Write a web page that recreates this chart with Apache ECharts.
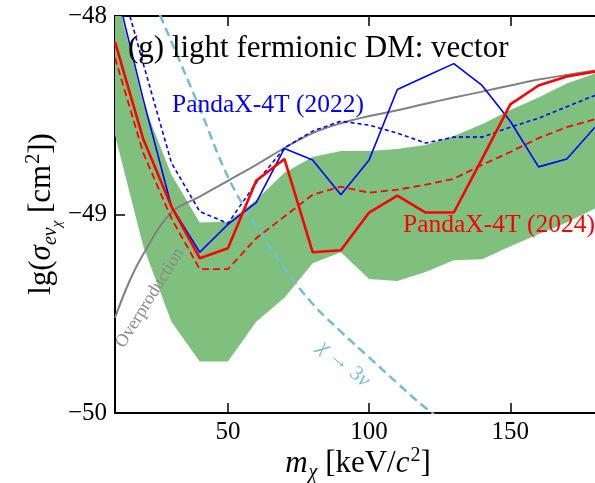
<!DOCTYPE html>
<html>
<head>
<meta charset="utf-8">
<script src="https://cdn.jsdelivr.net/npm/echarts@6/dist/echarts.min.js"></script>
<style>
  html, body { margin: 0; padding: 0; background: #fff; }
  #chart { width: 595px; height: 483px; }
</style>
</head>
<body>
<div id="chart"></div>
<script>
// DM mass grid (keV/c^2) for the PandaX-4T limits
const mass = [10, 20, 30, 40, 50, 60, 70, 80, 90, 100, 110, 120, 130, 140, 150, 160, 170, 180];
// PandaX-4T (2024) observed and expected limits, lg(sigma / cm^2)
const limit2024 = [-48.13, -48.62, -48.96, -49.22, -49.17, -48.83, -48.72, -49.19, -49.18, -48.99, -48.905, -48.99, -48.99, -48.72, -48.445, -48.35, -48.305, -48.28];
const expected2024 = [-48.21, -48.69, -49.02, -49.275, -49.275, -49.12, -49.01, -48.90, -48.86, -48.89, -48.875, -48.85, -48.82, -48.75, -48.685, -48.615, -48.56, -48.52];
// PandaX-4T (2022) observed and expected limits
const limit2022 = [-47.84, -48.42, -48.96, -49.19, -49.05, -48.94, -48.667, -48.725, -48.90, -48.725, -48.37, -48.305, -48.24, -48.35, -48.53, -48.76, -48.72, -48.56];
const expected2022 = [-47.73, -48.24, -48.74, -48.985, -49.045, -48.84, -48.665, -48.58, -48.53, -48.55, -48.59, -48.64, -48.61, -48.61, -48.56, -48.515, -48.457, -48.40];
// 1-sigma sensitivity band of the 2024 result
const bandMass = [10, 15, 20, 30, 40, 50, 60, 70, 80, 90, 100, 110, 120, 130, 140, 150, 160, 170, 180];
const bandLow = [-48.60, -48.88, -49.16, -49.54, -49.74, -49.74, -49.54, -49.42, -49.245, -49.19, -49.325, -49.335, -49.29, -49.23, -49.225, -49.16, -49.10, -49.04, -48.97];
const bandHigh = [-47.87, -48.15, -48.44, -48.80, -49.04, -49.036, -48.927, -48.79, -48.71, -48.68, -48.68, -48.67, -48.65, -48.605, -48.545, -48.474, -48.41, -48.34, -48.29];
// Relic overproduction boundary
const overMass = [10, 15, 20, 30, 40, 50, 60, 70, 80, 90, 100, 110, 120, 130, 140, 150, 160, 170, 180];
const overVal = [-49.52, -49.34, -49.20, -48.99, -48.91, -48.83, -48.75, -48.665, -48.59, -48.54, -48.504, -48.475, -48.442, -48.411, -48.381, -48.35, -48.32, -48.297, -48.275];
// Lifetime bound from chi -> 3 nu decay
const nuMass = [20, 30, 40, 50, 60, 70, 80, 90, 100, 110, 120, 130];
const nuVal = [-47.80, -48.13, -48.465, -48.81, -49.06, -49.27, -49.45, -49.59, -49.72, -49.85, -49.975, -50.08];
// Axis ticks
const xTicks = [50, 100, 150];

const SERIF = '"Liberation Serif", "DejaVu Serif", serif';
const zip = (xs, ys) => xs.map((x, i) => [x, ys[i]]);
const minus = v => (v < 0 ? '\u2212' + Math.abs(v) : String(v));

const chart = echarts.init(document.getElementById('chart'), null, { renderer: 'canvas' });

const bandData = bandMass.map((x, i) => [x, bandLow[i], bandHigh[i]]);

const option = {
  animation: false,
  backgroundColor: '#ffffff',
  grid: { left: 115, right: -8, top: 16, bottom: 70, containLabel: false },
  xAxis: [
    {
      type: 'value', min: 10, max: 180, position: 'bottom',
      axisLine: { show: true, onZero: false, lineStyle: { color: '#000', width: 2 } },
      axisTick: { show: true, inside: true, length: 10, customValues: xTicks, lineStyle: { color: '#000', width: 1.5 } },
      axisLabel: { show: true, customValues: xTicks, margin: 7, fontFamily: SERIF, fontSize: 25, color: '#000' },
      splitLine: { show: false }
    },
    {
      type: 'value', min: 10, max: 180, position: 'top',
      axisLine: { show: true, onZero: false, lineStyle: { color: '#000', width: 2 } },
      axisTick: { show: true, inside: true, length: 10, customValues: xTicks, lineStyle: { color: '#000', width: 1.5 } },
      axisLabel: { show: false },
      splitLine: { show: false }
    }
  ],
  yAxis: [
    {
      type: 'value', min: -50, max: -48, interval: 1, position: 'left',
      axisLine: { show: true, onZero: false, lineStyle: { color: '#000', width: 2 } },
      axisTick: { show: true, inside: true, length: 10, lineStyle: { color: '#000', width: 1.5 } },
      axisLabel: { show: true, margin: 8, fontFamily: SERIF, fontSize: 25, color: '#000', formatter: minus },
      splitLine: { show: false }
    }
  ],
  series: [
    {
      name: 'band', type: 'custom', clip: true, silent: true, z: 1,
      data: bandData,
      renderItem: function (params, api) {
        if (params.dataIndex !== 0) return null;
        const upper = bandData.map(d => api.coord([d[0], d[2]]));
        const lower = bandData.map(d => api.coord([d[0], d[1]])).reverse();
        return {
          type: 'polygon',
          shape: { points: upper.concat(lower) },
          style: { fill: '#7fc07f', stroke: null }
        };
      }
    },
    {
      name: 'Overproduction', type: 'line', smooth: 0.4, symbol: 'none', z: 3,
      data: zip(overMass, overVal),
      lineStyle: { color: '#808080', width: 2 }
    },
    {
      name: 'chi to 3 nu', type: 'line', smooth: 0.4, symbol: 'none', z: 3,
      data: zip(nuMass, nuVal),
      lineStyle: { color: '#74bdd6', width: 2.5, type: [9, 5] }
    },
    {
      name: 'PandaX-4T (2022) expected', type: 'line', symbol: 'none', z: 4,
      data: zip(mass, expected2022),
      lineStyle: { color: '#0000ff', width: 1.6, type: [4, 3] }
    },
    {
      name: 'PandaX-4T (2022)', type: 'line', symbol: 'none', z: 5,
      data: zip(mass, limit2022),
      lineStyle: { color: '#0000ff', width: 1.6 }
    },
    {
      name: 'PandaX-4T (2024) expected', type: 'line', symbol: 'none', z: 4,
      data: zip(mass, expected2024),
      lineStyle: { color: '#ff0000', width: 1.8, type: [7, 4] }
    },
    {
      name: 'PandaX-4T (2024)', type: 'line', symbol: 'none', z: 6,
      data: zip(mass, limit2024),
      lineStyle: { color: '#ff0000', width: 2.6 }
    }
  ],
  graphic: [
    {
      type: 'text', left: 128, top: 33, z: 10,
      style: { text: '(g) light fermionic DM: vector', fontFamily: SERIF, fontSize: 31, fill: '#000' }
    },
    {
      type: 'text', left: 172, top: 92, z: 10,
      style: { text: 'PandaX-4T (2022)', fontFamily: SERIF, fontSize: 25.5, fill: '#0000ff' }
    },
    {
      type: 'text', left: 403, top: 212, z: 10,
      style: { text: 'PandaX-4T (2024)', fontFamily: SERIF, fontSize: 25.5, fill: '#ff0000' }
    },
    {
      type: 'text', x: 150, y: 298, rotation: 58 * Math.PI / 180, z: 10,
      style: { text: 'Overproduction', fontFamily: SERIF, fontSize: 18, fill: '#8a8a8a', align: 'center', verticalAlign: 'middle' }
    },
    {
      type: 'text', x: 344, y: 364, rotation: -40 * Math.PI / 180, z: 10,
      style: {
        text: '{i|\u03c7} \u2192 3{i|\u03bd}', fontFamily: SERIF, fontSize: 21, fill: '#74bdd6', align: 'center', verticalAlign: 'middle',
        rich: { i: { fontFamily: SERIF, fontStyle: 'italic', fontSize: 21, fill: '#74bdd6', color: '#74bdd6' } }
      }
    },
    {
      type: 'text', x: 358, y: 464, z: 10,
      style: {
        text: '{i|m}{s|\u03c7} {n|[keV/}{i|c}{p|2}{n|]}',
        fontFamily: SERIF, fontSize: 31, fill: '#000', align: 'center', verticalAlign: 'middle',
        rich: {
          n: { fontFamily: SERIF, fontSize: 31, color: '#000' },
          i: { fontFamily: SERIF, fontSize: 31, fontStyle: 'italic', color: '#000' },
          s: { fontFamily: SERIF, fontSize: 20, fontStyle: 'italic', color: '#000', padding: [18, 0, 0, 1] },
          p: { fontFamily: SERIF, fontSize: 20, color: '#000', padding: [0, 0, 16, 1] }
        }
      }
    },
    {
      type: 'text', x: 42, y: 214, rotation: Math.PI / 2, z: 10,
      style: {
        text: '{n|lg(}{i|\u03c3}{s|ev}{ss|\u03c7}{n| [cm}{p|2}{n|])}',
        fontFamily: SERIF, fontSize: 31, fill: '#000', align: 'center', verticalAlign: 'middle',
        rich: {
          n: { fontFamily: SERIF, fontSize: 31, color: '#000' },
          i: { fontFamily: SERIF, fontSize: 31, fontStyle: 'italic', color: '#000' },
          s: { fontFamily: SERIF, fontSize: 20, fontStyle: 'italic', color: '#000', padding: [18, 0, 0, 0] },
          ss: { fontFamily: SERIF, fontSize: 15, fontStyle: 'italic', color: '#000', padding: [30, 0, 0, 0] },
          p: { fontFamily: SERIF, fontSize: 20, color: '#000', padding: [0, 0, 16, 1] }
        }
      }
    }
  ]
};

chart.setOption(option);
</script>
</body>
</html>
